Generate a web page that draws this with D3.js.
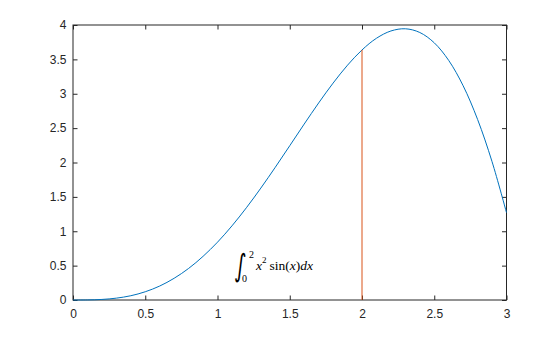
<!DOCTYPE html>
<html><head><meta charset="utf-8">
<script src="https://cdn.jsdelivr.net/npm/d3@7"></script>
<style>body{margin:0;background:#fff}svg{display:block}</style>
</head><body>
<svg id="c" width="560" height="337"></svg>
<script>
const xs = [0,0.1,0.2,0.3,0.4,0.5,0.6,0.7,0.8,0.9,1.0,1.1,1.2,1.3,1.4,1.5,1.6,1.7,1.8,1.9,2.0,2.1,2.2,2.3,2.4,2.5,2.6,2.7,2.8,2.9,3.0];
const ys = [0,0.001,0.008,0.027,0.062,0.120,0.203,0.316,0.459,0.635,0.841,1.078,1.342,1.628,1.931,2.244,2.559,2.866,3.155,3.416,3.637,3.807,3.913,3.945,3.891,3.741,3.485,3.116,2.626,2.012,1.270];
const markX = [2, 2];
const markY = [0, 3.637];
const xTicks = [0,0.5,1,1.5,2,2.5,3];
const yTicks = [0,0.5,1,1.5,2,2.5,3,3.5,4];

const svg = d3.select("#c");
const L=73, R=506.5, T=25, B=300;
const x = d3.scaleLinear().domain([0,3]).range([L,R]);
const y = d3.scaleLinear().domain([0,4]).range([B,T]);
const font = "Liberation Sans, Arial, Helvetica, sans-serif";

const g = svg.append("g");
const tl = 4.5;
const ax = (sel) => { sel.select(".domain").remove(); sel.selectAll("text").attr("font-family",font).attr("font-size",12).attr("fill","#262626"); sel.selectAll("line").attr("stroke","#262626"); };

g.append("g").attr("transform",`translate(0,${B})`)
 .call(d3.axisBottom(x).tickValues(xTicks).tickFormat(d3.format("")).tickSizeInner(-tl).tickPadding(9)).call(ax);
g.append("g").attr("transform",`translate(0,${T})`)
 .call(d3.axisTop(x).tickValues(xTicks).tickFormat("").tickSizeInner(-tl)).call(ax);
g.append("g").attr("transform",`translate(${L},0)`)
 .call(d3.axisLeft(y).tickValues(yTicks).tickFormat(d3.format("")).tickSizeInner(-tl).tickPadding(6.5)).call(ax);
g.append("g").attr("transform",`translate(${R},0)`)
 .call(d3.axisRight(y).tickValues(yTicks).tickFormat("").tickSizeInner(-tl)).call(ax);

g.append("rect").attr("x",L).attr("y",T).attr("width",R-L).attr("height",B-T)
 .attr("fill","none").attr("stroke","#262626").attr("stroke-width",1);

const pts = xs.map((v,i)=>[v,ys[i]]);
svg.append("path").datum(pts)
 .attr("d", d3.line().x(d=>x(d[0])).y(d=>y(d[1])).curve(d3.curveCatmullRom))
 .attr("fill","none").attr("stroke","#0072BD").attr("stroke-width",1);

svg.append("path").datum(markX.map((v,i)=>[v,markY[i]]))
 .attr("d", d3.line().x(d=>x(d[0])).y(d=>y(d[1])))
 .attr("fill","none").attr("stroke","#D95319").attr("stroke-width",1);

const serif = "Liberation Serif, Times New Roman, serif";
const tg = svg.append("g").attr("font-family",serif).attr("fill","#000");
tg.append("text").attr("font-family","DejaVu Sans").attr("font-size",28)
 .attr("transform","translate(239.5,275.5) scale(0.72,1.1) skewX(-8)").attr("text-anchor","middle").text("\u222B");
tg.append("text").attr("x",249).attr("y",258).attr("font-size",10).text("2");
tg.append("text").attr("x",242).attr("y",282).attr("font-size",10).text("0");
const t = tg.append("text").attr("x",256).attr("y",270).attr("font-size",13.5);
t.append("tspan").attr("font-style","italic").text("x");
t.append("tspan").attr("font-size",9).attr("dy",-7).text("2");
t.append("tspan").attr("dy",7).attr("dx",3).text("sin(");
t.append("tspan").attr("font-style","italic").text("x");
t.append("tspan").text(")");
t.append("tspan").attr("font-style","italic").text("dx");
</script>
</body></html>
